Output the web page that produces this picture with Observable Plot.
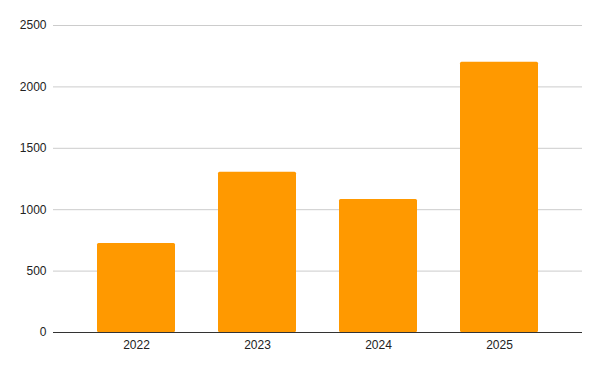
<!DOCTYPE html>
<html>
<head>
<meta charset="utf-8">
<script src="https://cdn.jsdelivr.net/npm/d3@7"></script>
<script src="https://cdn.jsdelivr.net/npm/@observablehq/plot@0.6"></script>
<style>
  html, body { margin: 0; padding: 0; background: #fff; }
  #chart svg text { font-family: Arial, "Liberation Sans", sans-serif; font-size: 12px; }
</style>
</head>
<body>
<div id="chart"></div>
<script>
const years = ["2022", "2023", "2024", "2025"];
const values = [725, 1305, 1083, 2200];
const yTicks = [0, 500, 1000, 1500, 2000, 2500];

const data = years.map((y, i) => ({year: y, value: values[i]}));

const chart = Plot.plot({
  width: 600,
  height: 371,
  marginTop: 25,
  marginBottom: 39,
  marginLeft: 53,
  marginRight: 18,
  style: {fontFamily: "Arial, 'Liberation Sans', sans-serif", fontSize: "12px", color: "#222", background: "#fff"},
  x: {domain: years, padding: 0.352, label: null},
  y: {domain: [0, 2500], label: null},
  marks: [
    Plot.ruleY(yTicks.filter(d => d > 0), {stroke: "#cccccc", strokeWidth: 1}),
    Plot.barY(data, {x: "year", y: "value", fill: "#ff9900", rx: 1.5}),
    Plot.ruleY([0], {stroke: "#333333", strokeWidth: 1}),
    Plot.axisY({ticks: yTicks, tickSize: 0, tickPadding: 7, tickFormat: d => String(d), fill: "#222", fontSize: 12}),
    Plot.axisX({tickSize: 0, tickPadding: 8, fill: "#222", fontSize: 12})
  ]
});
document.getElementById("chart").appendChild(chart);
</script>
</body>
</html>
